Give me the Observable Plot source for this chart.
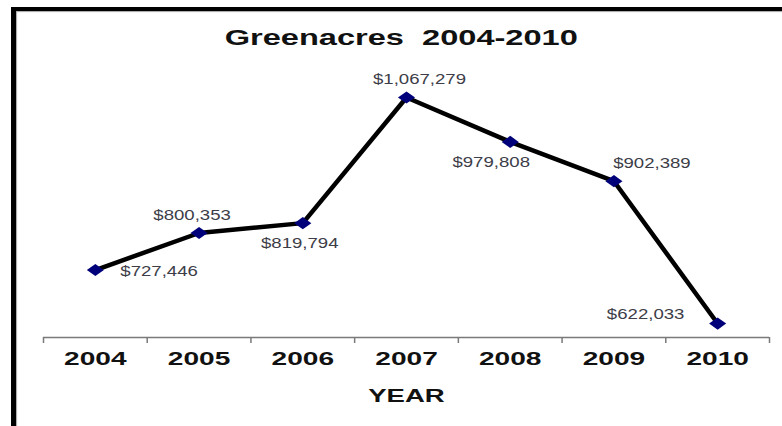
<!DOCTYPE html>
<html>
<head>
<meta charset="utf-8">
<script src="https://cdn.jsdelivr.net/npm/d3@7"></script>
<script src="https://cdn.jsdelivr.net/npm/@observablehq/plot@0.6"></script>
<style>
  html, body { margin: 0; padding: 0; background: #fff; overflow: hidden; }
  #wrap { position: relative; width: 782px; height: 426px; }
  #title { height: 60px; box-sizing: border-box; padding-top: 27px; text-align: center;
           font: bold 22px "Liberation Sans", Arial, sans-serif; line-height: 22px; color: #111; }
  #title span { display: inline-block; position: relative; left: 10px; transform: scaleX(1.48); }
  #border { position: absolute; left: 11px; top: 7px; width: 2000px; height: 2000px;
            border-top: 4px solid #000; border-left: 5px solid #000; pointer-events: none;
            box-shadow: inset 1px 1px 1px rgba(0,0,0,0.35); }
</style>
</head>
<body>
<div id="wrap">
  <div id="title"><span>Greenacres&nbsp;&nbsp;2004-2010</span></div>
  <div id="chart"></div>
  <div id="border"></div>
</div>
<script>
const years = [2004, 2005, 2006, 2007, 2008, 2009, 2010];
const values = [727446, 800353, 819794, 1067279, 979808, 902389, 622033];
const valueLabels = ["$727,446", "$800,353", "$819,794", "$1,067,279", "$979,808", "$902,389", "$622,033"];
const labelSides = ["right", "upLeft", "down", "upRight", "downLeft", "upRightFar", "leftUp"];
const yFloor = 594500;
const xAxisTitle = "YEAR";

const data = years.map((year, i) => ({year, value: values[i], label: valueLabels[i], side: labelSides[i]}));
const bounds = years.map(y => y - 0.5).concat([years[years.length - 1] + 0.5]);

const placement = {
  right:      {dx: 25,  dy: 1,   textAnchor: "start"},
  upLeft:     {dx: -7,  dy: -18, textAnchor: "middle"},
  down:       {dx: -3,  dy: 20,  textAnchor: "middle"},
  upRight:    {dx: 13,  dy: -18, textAnchor: "middle"},
  downLeft:   {dx: -19, dy: 20,  textAnchor: "middle"},
  upRightFar: {dx: 38,  dy: -18, textAnchor: "middle"},
  leftUp:     {dx: -72, dy: -9,  textAnchor: "middle"}
};

const labelMarks = Object.entries(placement).map(([side, p]) =>
  Plot.text(data.filter(d => d.side === side), {
    x: "year", y: "value", text: "label",
    dx: p.dx, dy: p.dy, textAnchor: p.textAnchor,
    fontSize: 15.5, fill: "#3d3d48", fontFamily: "Liberation Sans, Arial, sans-serif"
  })
);

const chart = Plot.plot({
  width: 782,
  height: 366,
  marginTop: 37,
  marginBottom: 89,
  marginLeft: 43,
  marginRight: 13,
  style: {fontFamily: "Liberation Sans, Arial, sans-serif", background: "transparent", overflow: "visible"},
  x: {type: "linear", domain: [bounds[0], bounds[bounds.length - 1]]},
  y: {domain: [yFloor, d3.max(values)], axis: null},
  marks: [
    Plot.ruleY([yFloor], {stroke: "#7a7a7a", strokeWidth: 1.5}),
    Plot.axisX(bounds, {tickSize: 6, tickFormat: () => "", stroke: "#7a7a7a", strokeWidth: 1.5, label: null}),
    Plot.axisX(years, {tickSize: 0, tickPadding: 14, tickFormat: "d", fontSize: 19, fontWeight: "bold",
      fill: "#111", label: xAxisTitle, labelAnchor: "center", labelArrow: "none", labelOffset: 64}),
    Plot.line(data, {x: "year", y: "value", stroke: "#000", strokeWidth: 4.5}),
    Plot.dot(data, {x: "year", y: "value", symbol: "diamond2", r: 5.5, fill: "#00007a", stroke: "none"}),
    ...labelMarks
  ]
});

document.getElementById("chart").appendChild(chart);

function stretch(selector, s) {
  chart.querySelectorAll(selector).forEach(el => {
    const t = el.getAttribute("transform");
    if (t) {
      el.setAttribute("transform", t + ` scale(${s},1)`);
    } else {
      const x = +el.getAttribute("x") || 0, y = +el.getAttribute("y") || 0;
      el.removeAttribute("x"); el.removeAttribute("y");
      el.setAttribute("transform", `translate(${x},${y}) scale(${s},1)`);
    }
  });
}
stretch('g[aria-label="x-axis tick label"] text', 1.48);
stretch('g[aria-label="x-axis label"] text', 1.45);
stretch('g[aria-label="text"] text', 1.2);
stretch('g[aria-label="dot"] path', 1.4);
</script>
</body>
</html>
